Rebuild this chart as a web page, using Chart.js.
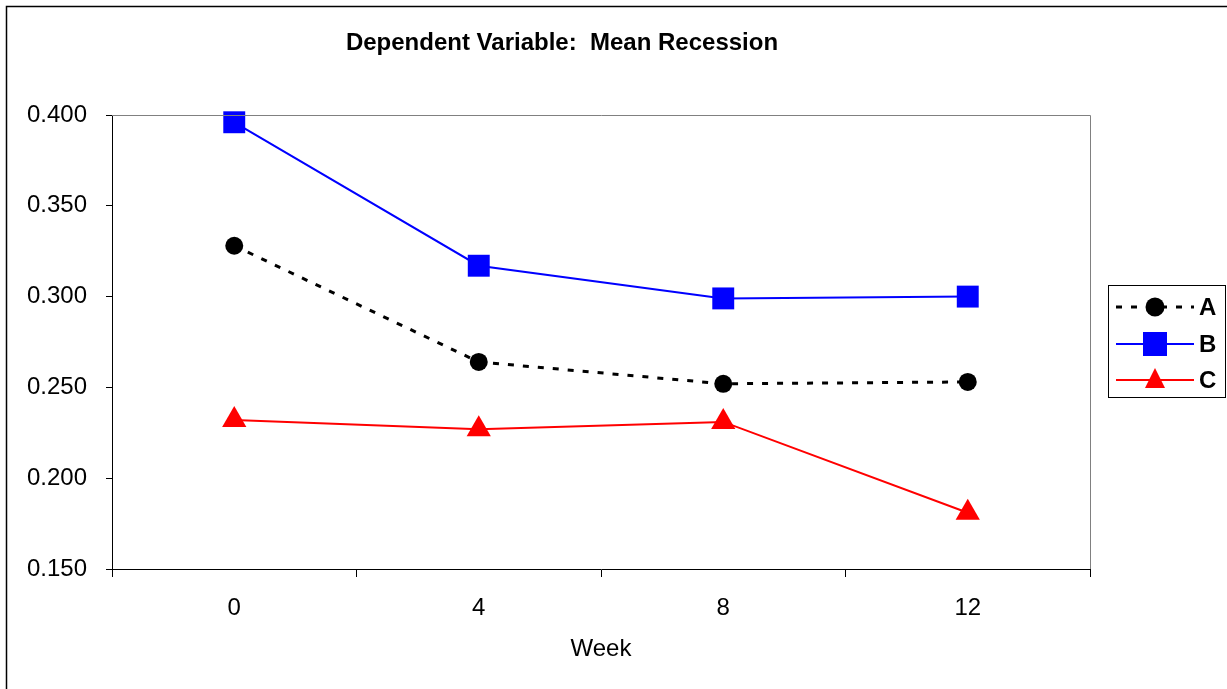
<!DOCTYPE html>
<html>
<head>
<meta charset="utf-8">
<title>Dependent Variable: Mean Recession</title>
<script src="https://cdn.jsdelivr.net/npm/chart.js@4/dist/chart.umd.min.js"></script>
<style>
  html, body { margin: 0; padding: 0; background: #fff; }
  #wrap { width: 1227px; height: 689px; position: relative; }
</style>
</head>
<body>
<div id="wrap"><canvas id="chart"></canvas></div>
<script>
/* ---- data ---- */
const weeks = ["0", "4", "8", "12"];
const seriesNames = ["A", "B", "C"];
const seriesA = [0.328, 0.264, 0.252, 0.253];
const seriesB = [0.396, 0.317, 0.299, 0.300];
const seriesC = [0.232, 0.227, 0.231, 0.181];
const yMin = 0.150;
const yMax = 0.400;
const yStep = 0.050;

const chartTitle = "Dependent Variable:  Mean Recession";
const xTitle = "Week";
const FONT = "Arial, 'Liberation Sans', sans-serif";

/* ---- frame, title and legend box ---- */
const framePlugin = {
  id: "frame",
  afterDraw(chart) {
    const ctx = chart.ctx;
    const a = chart.chartArea;
    ctx.save();

    // outer border (left + top visible)
    ctx.strokeStyle = "#000";
    ctx.lineWidth = 1.5;
    ctx.beginPath();
    ctx.moveTo(6.5, 700);
    ctx.lineTo(6.5, 6.5);
    ctx.lineTo(1240, 6.5);
    ctx.stroke();

    // plot area top + right edges in gray
    ctx.strokeStyle = "#808080";
    ctx.lineWidth = 1;
    ctx.beginPath();
    ctx.moveTo(a.left, a.top + 0.5);
    ctx.lineTo(a.right + 0.5, a.top + 0.5);
    ctx.lineTo(a.right + 0.5, a.bottom);
    ctx.stroke();

    // title
    ctx.fillStyle = "#000";
    ctx.font = "bold 24px " + FONT;
    ctx.textAlign = "center";
    ctx.textBaseline = "middle";
    ctx.fillText(chartTitle, 562, 43);

    // legend
    ctx.strokeStyle = "#000";
    ctx.lineWidth = 1;
    ctx.strokeRect(1108.5, 285.5, 117, 112);
    const rows = [307, 344, 380];
    chart.data.datasets.forEach((ds, i) => {
      const y = rows[i];
      ctx.save();
      ctx.strokeStyle = ds.borderColor;
      ctx.lineWidth = ds.borderWidth;
      ctx.setLineDash(ds.borderDash || []);
      ctx.beginPath();
      ctx.moveTo(1116, y);
      ctx.lineTo(1194, y);
      ctx.stroke();
      ctx.restore();

      const cx = 1155;
      ctx.fillStyle = ds.pointBackgroundColor;
      ctx.beginPath();
      if (ds.pointStyle === "circle") {
        ctx.arc(cx, y, 9.5, 0, Math.PI * 2);
      } else if (ds.pointStyle === "rect") {
        ctx.rect(cx - 12, y - 12, 24, 24);
      } else {
        ctx.moveTo(cx, y - 12);
        ctx.lineTo(cx + 10, y + 8);
        ctx.lineTo(cx - 10, y + 8);
        ctx.closePath();
      }
      ctx.fill();

      ctx.fillStyle = "#000";
      ctx.font = "bold 24px " + FONT;
      ctx.textAlign = "left";
      ctx.textBaseline = "middle";
      ctx.fillText(ds.label, 1199, y + 1);
    });
    ctx.restore();
  }
};

new Chart(document.getElementById("chart"), {
  type: "line",
  data: {
    labels: weeks,
    datasets: [
      {
        label: seriesNames[0],
        data: seriesA,
        borderColor: "#000",
        borderWidth: 3,
        borderDash: [6, 9],
        pointStyle: "circle",
        pointRadius: 9,
        pointBackgroundColor: "#000",
        pointBorderWidth: 0,
        clip: false
      },
      {
        label: seriesNames[1],
        data: seriesB,
        borderColor: "#0000ff",
        borderWidth: 2,
        pointStyle: "rect",
        pointRadius: 15.5,
        pointBackgroundColor: "#0000ff",
        pointBorderWidth: 0,
        clip: false
      },
      {
        label: seriesNames[2],
        data: seriesC,
        borderColor: "#ff0000",
        borderWidth: 2,
        pointStyle: "triangle",
        pointRadius: 14,
        pointBackgroundColor: "#ff0000",
        pointBorderWidth: 0,
        clip: false
      }
    ]
  },
  options: {
    responsive: true,
    maintainAspectRatio: false,
    animation: false,
    layout: { padding: { top: 115, right: 137, bottom: 0, left: 0 } },
    plugins: {
      legend: { display: false },
      title: { display: false },
      tooltip: { enabled: false }
    },
    elements: { line: { tension: 0 } },
    scales: {
      x: {
        type: "category",
        offset: true,
        afterFit(scale) { scale.height = 120; },
        grid: {
          offset: true,
          drawOnChartArea: false,
          drawTicks: true,
          tickLength: 8,
          color: "#000"
        },
        border: { color: "#000", width: 1 },
        ticks: {
          color: "#000",
          padding: 17,
          maxRotation: 0,
          font: { family: FONT, size: 24 }
        },
        title: {
          display: true,
          text: xTitle,
          color: "#000",
          font: { family: FONT, size: 24 },
          padding: { top: 0, bottom: 25 }
        }
      },
      y: {
        min: yMin,
        max: yMax,
        afterFit(scale) { scale.width = 112; },
        grid: {
          drawOnChartArea: false,
          drawTicks: true,
          tickLength: 6,
          color: "#000"
        },
        border: { color: "#000", width: 1 },
        ticks: {
          stepSize: yStep,
          color: "#000",
          padding: 19,
          font: { family: FONT, size: 24 },
          callback: v => Number(v).toFixed(3)
        }
      }
    }
  },
  plugins: [framePlugin]
});
</script>
</body>
</html>
